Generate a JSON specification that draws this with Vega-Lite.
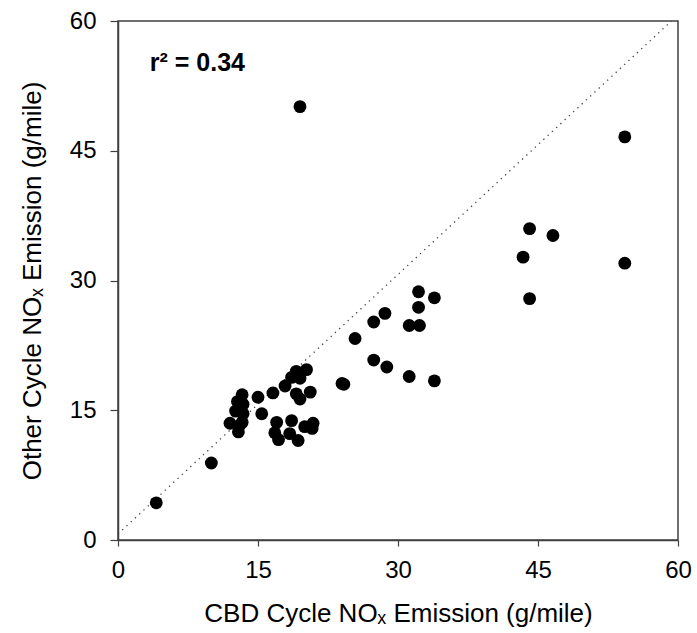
{
  "$schema": "https://vega.github.io/schema/vega-lite/v6.json",
  "autosize": {"type": "none"},
  "width": 560,
  "height": 519,
  "padding": {"left": 118, "top": 21, "right": 19, "bottom": 93},
  "background": "white",
  "config": {
    "font": "Liberation Sans",
    "view": {"stroke": "#404040", "strokeWidth": 1.5},
    "axis": {
      "grid": false,
      "labelFlush": false,
      "labelOverlap": false,
      "domainColor": "#404040",
      "domainWidth": 1.5,
      "tickColor": "#404040",
      "tickWidth": 1.2,
      "labelFont": "Liberation Sans",
      "labelFontSize": 24,
      "labelColor": "#000",
      "titleFont": "Liberation Sans",
      "titleFontSize": 26,
      "titleFontWeight": "normal",
      "titleColor": "#000"
    }
  },
  "datasets": {
    "pts": [
      {"cbd": 4.1, "other": 4.3},
      {"cbd": 10.0, "other": 8.9},
      {"cbd": 13.3, "other": 16.8},
      {"cbd": 12.8, "other": 16.0},
      {"cbd": 13.4, "other": 15.7},
      {"cbd": 12.6, "other": 14.9},
      {"cbd": 13.4, "other": 14.6},
      {"cbd": 12.0, "other": 13.5},
      {"cbd": 13.3, "other": 13.6},
      {"cbd": 12.9, "other": 12.5},
      {"cbd": 13.0, "other": 13.2},
      {"cbd": 15.0, "other": 16.5},
      {"cbd": 15.4, "other": 14.6},
      {"cbd": 16.6, "other": 17.0},
      {"cbd": 17.9, "other": 17.8},
      {"cbd": 18.6, "other": 18.8},
      {"cbd": 19.1, "other": 19.5},
      {"cbd": 20.2, "other": 19.7},
      {"cbd": 19.5, "other": 18.7},
      {"cbd": 19.1, "other": 16.9},
      {"cbd": 19.5, "other": 16.3},
      {"cbd": 20.6, "other": 17.1},
      {"cbd": 17.0, "other": 13.6},
      {"cbd": 18.6, "other": 13.8},
      {"cbd": 16.8, "other": 12.4},
      {"cbd": 17.2, "other": 11.6},
      {"cbd": 18.4, "other": 12.3},
      {"cbd": 19.3, "other": 11.5},
      {"cbd": 20.0, "other": 13.1},
      {"cbd": 20.9, "other": 13.5},
      {"cbd": 20.8, "other": 12.9},
      {"cbd": 19.5, "other": 50.1},
      {"cbd": 24.0, "other": 18.1},
      {"cbd": 24.2, "other": 18.0},
      {"cbd": 25.4, "other": 23.3},
      {"cbd": 27.4, "other": 25.2},
      {"cbd": 28.6, "other": 26.2},
      {"cbd": 27.4, "other": 20.8},
      {"cbd": 28.8, "other": 20.0},
      {"cbd": 31.2, "other": 24.8},
      {"cbd": 32.3, "other": 24.8},
      {"cbd": 32.2, "other": 26.9},
      {"cbd": 32.2, "other": 28.7},
      {"cbd": 33.9, "other": 28.0},
      {"cbd": 31.2, "other": 18.9},
      {"cbd": 33.9, "other": 18.4},
      {"cbd": 43.4, "other": 32.7},
      {"cbd": 44.1, "other": 36.0},
      {"cbd": 46.6, "other": 35.2},
      {"cbd": 44.1, "other": 27.9},
      {"cbd": 54.3, "other": 46.6},
      {"cbd": 54.3, "other": 32.0}
    ],
    "diag": [
      {"cbd": 0, "other": 0.7},
      {"cbd": 59.3, "other": 60}
    ],
    "note": [
      {"cbd": 3.4, "other": 54.2, "label": "r² = 0.34"}
    ]
  },
  "layer": [
    {
      "data": {"name": "diag"},
      "mark": {"type": "line", "color": "#444", "strokeWidth": 1.3, "strokeDash": [1.3, 4.5], "clip": true},
      "encoding": {
        "x": {"field": "cbd", "type": "quantitative", "scale": {"domain": [0, 60], "nice": false},
          "axis": {"values": [0, 15, 30, 45, 60], "tickSize": 6, "labelPadding": 12, "title": "CBD Cycle NOₓ Emission (g/mile)", "titlePadding": 18}},
        "y": {"field": "other", "type": "quantitative", "scale": {"domain": [0, 60], "nice": false},
          "axis": {"values": [0, 15, 30, 45, 60], "tickSize": 8, "labelPadding": 14, "title": "Other Cycle NOₓ Emission (g/mile)", "titlePadding": 24}}
      }
    },
    {
      "data": {"name": "pts"},
      "mark": {"type": "circle", "size": 165, "color": "#000", "opacity": 1},
      "encoding": {
        "x": {"field": "cbd", "type": "quantitative"},
        "y": {"field": "other", "type": "quantitative"}
      }
    },
    {
      "data": {"name": "note"},
      "mark": {"type": "text", "align": "left", "baseline": "alphabetic", "fontSize": 25, "fontWeight": "bold", "font": "Liberation Sans", "color": "#000"},
      "encoding": {
        "x": {"field": "cbd", "type": "quantitative"},
        "y": {"field": "other", "type": "quantitative"},
        "text": {"field": "label"}
      }
    }
  ]
}
